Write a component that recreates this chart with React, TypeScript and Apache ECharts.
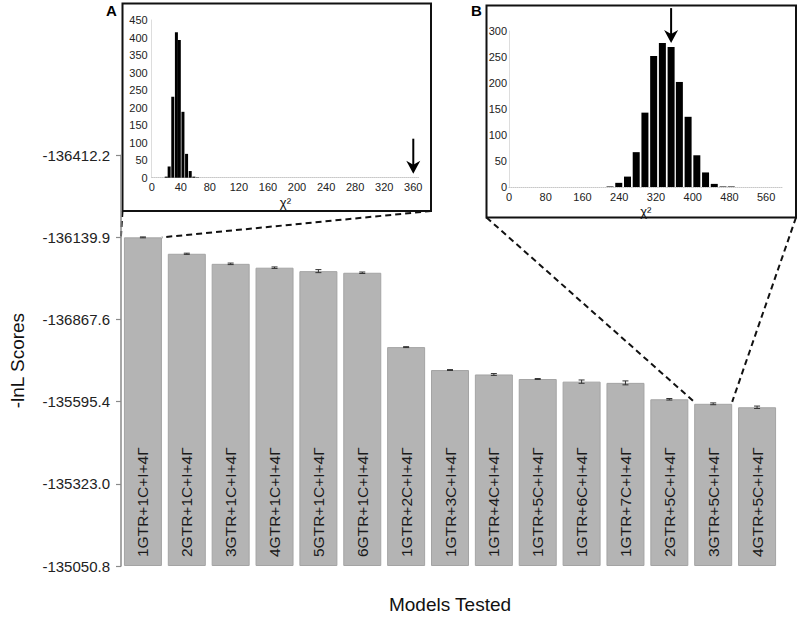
import React, { useEffect, useRef } from "react";
import * as echarts from "echarts";

// ---------- main bar chart data ----------
const models = [
  "1GTR+1C+I+4Γ",
  "2GTR+1C+I+4Γ",
  "3GTR+1C+I+4Γ",
  "4GTR+1C+I+4Γ",
  "5GTR+1C+I+4Γ",
  "6GTR+1C+I+4Γ",
  "1GTR+2C+I+4Γ",
  "1GTR+3C+I+4Γ",
  "1GTR+4C+I+4Γ",
  "1GTR+5C+I+4Γ",
  "1GTR+6C+I+4Γ",
  "1GTR+7C+I+4Γ",
  "2GTR+5C+I+4Γ",
  "3GTR+5C+I+4Γ",
  "4GTR+5C+I+4Γ",
];
// -lnL scores
const scores = [
  -136139.9, -136085.5, -136052.2, -136039.4, -136028.0, -136022.6,
  -135776.2, -135700.2, -135685.5, -135670.5, -135661.8, -135657.7,
  -135603.3, -135588.3, -135576.8,
];
const scoreErrors = [1.5, 2, 2.5, 2.5, 5, 2.5, 1.5, 1.5, 3, 1.5, 5.5, 6.5, 2.5, 3, 4];
const yTickLabels = ["-135050.8", "-135323.0", "-135595.4", "-136867.6", "-136139.9", "-136412.2"];
const scoreBase = -135050.8;
const scoreStep = -272.28;

// ---------- inset A histogram ----------
const histAChi = [20, 24, 29, 34, 38, 43, 48, 53, 58, 63];
const histACounts = [3, 32, 231, 415, 393, 188, 68, 19, 3, 1];
const observedA = 360;
const observedACount = 0;

// ---------- inset B histogram ----------
const histBChi = [220, 239, 258, 277, 296, 315, 334, 353, 371, 390, 409, 428, 447, 466, 484];
const histBCounts = [1, 8, 20, 67, 143, 252, 277, 269, 202, 135, 61, 28, 6, 1, 1];
const observedB = 353;
const observedBCount = 269;

const toAxis = (s: number) => (s - scoreBase) / scoreStep;

const FONT = "Liberation Sans";

export default function App() {
  const ref = useRef<HTMLDivElement>(null);

  useEffect(() => {
    if (!ref.current) return;
    const chart = echarts.init(ref.current, undefined, { renderer: "svg" });

    const arrowRender = (params: any, api: any) => {
      const tip = api.coord([api.value(0), api.value(1)]);
      const tx = tip[0];
      const ty = tip[1] - 4;
      return {
        type: "group",
        children: [
          {
            type: "line",
            shape: { x1: tx, y1: ty - 35, x2: tx, y2: ty - 6 },
            style: { stroke: "#000", lineWidth: 2 },
          },
          {
            type: "polygon",
            shape: {
              points: [
                [tx - 7, ty - 13],
                [tx, ty - 9],
                [tx + 7, ty - 13],
                [tx, ty],
              ],
            },
            style: { fill: "#000" },
          },
        ],
      };
    };

    const insetXAxis = (grid: number, max: number, interval: number) => ({
      type: "value",
      gridIndex: grid,
      min: 0,
      max,
      interval,
      axisLine: { show: true, lineStyle: { color: "#c8c8c8", type: "dotted", width: 1 } },
      axisTick: { show: false },
      splitLine: { show: false },
      axisLabel: { fontSize: 11, color: "#222", margin: 4, showMaxLabel: false, fontFamily: FONT },
      name: "χ²",
      nameLocation: "middle",
      nameGap: 18,
      nameTextStyle: { fontSize: 13, color: "#111", fontFamily: FONT },
    });
    const insetYAxis = (grid: number, max: number, margin: number) => ({
      type: "value",
      gridIndex: grid,
      min: 0,
      max,
      interval: 50,
      axisLine: { show: true, lineStyle: { color: "#dddddd", width: 1 } },
      axisTick: { show: false },
      splitLine: { show: false },
      axisLabel: { fontSize: 11, color: "#222", margin, fontFamily: FONT },
    });

    const option: any = {
      animation: false,
      textStyle: { fontFamily: FONT },
      grid: [
        { left: 114, top: 155.2, width: 665, height: 425.5 },
        { left: 151.7, top: 20, width: 267.4, height: 157.7 },
        { left: 509, top: 31, width: 273.7, height: 156 },
      ],
      xAxis: [
        {
          type: "category",
          gridIndex: 0,
          data: models,
          axisLine: { show: false },
          axisTick: { show: false },
          axisLabel: { show: false },
          name: "Models Tested",
          nameLocation: "middle",
          nameGap: 29,
          nameTextStyle: { fontSize: 19, color: "#111", fontFamily: FONT },
        },
        insetXAxis(1, 368, 40),
        insetXAxis(2, 596, 80),
      ],
      yAxis: [
        {
          type: "value",
          gridIndex: 0,
          min: 0,
          max: 5,
          interval: 1,
          axisLine: { show: true, lineStyle: { color: "#8a8a8a", width: 1.5 } },
          axisTick: { show: true, length: 5, lineStyle: { color: "#8a8a8a", width: 1.2 } },
          splitLine: { show: false },
          axisLabel: {
            fontSize: 15,
            color: "#222",
            margin: 11,
            fontFamily: FONT,
            formatter: (v: number) => yTickLabels[Math.round(v)],
          },
          name: "-lnL Scores",
          nameLocation: "middle",
          nameGap: 94,
          nameTextStyle: { fontSize: 19, color: "#111", fontFamily: FONT },
        },
        insetYAxis(1, 450, 4),
        insetYAxis(2, 300, 2),
      ],
      series: [
        {
          type: "bar",
          xAxisIndex: 0,
          yAxisIndex: 0,
          data: scores.map(toAxis),
          barWidth: 38,
          itemStyle: { color: "#b4b4b4", borderColor: "#a4a4a4", borderWidth: 1 },
          label: {
            show: true,
            position: "insideBottom",
            distance: 9,
            rotate: 90,
            align: "left",
            verticalAlign: "middle",
            formatter: "{b}",
            fontSize: 15.5,
            color: "#1a1a1a",
            fontFamily: FONT,
          },
        },
        {
          type: "custom",
          xAxisIndex: 0,
          yAxisIndex: 0,
          data: scores.map((s, i) => [i, toAxis(s - scoreErrors[i]), toAxis(s + scoreErrors[i])]),
          renderItem: (params: any, api: any) => {
            const hi = api.coord([api.value(0), api.value(1)]);
            const lo = api.coord([api.value(0), api.value(2)]);
            const x = hi[0];
            const st = { stroke: "#333", lineWidth: 1 };
            return {
              type: "group",
              children: [
                { type: "line", shape: { x1: x, y1: hi[1], x2: x, y2: lo[1] }, style: st },
                { type: "line", shape: { x1: x - 3, y1: hi[1], x2: x + 3, y2: hi[1] }, style: st },
                { type: "line", shape: { x1: x - 3, y1: lo[1], x2: x + 3, y2: lo[1] }, style: st },
              ],
            };
          },
          z: 5,
        },
        {
          type: "bar",
          xAxisIndex: 1,
          yAxisIndex: 1,
          data: histAChi.map((x, i) => [x, histACounts[i]]),
          barWidth: 3,
          itemStyle: { color: "#000" },
        },
        {
          type: "bar",
          xAxisIndex: 2,
          yAxisIndex: 2,
          data: histBChi.map((x, i) => [x, histBCounts[i]]),
          barWidth: 7,
          itemStyle: { color: "#000" },
        },
        {
          type: "custom",
          xAxisIndex: 1,
          yAxisIndex: 1,
          clip: false,
          data: [[observedA, observedACount]],
          renderItem: arrowRender,
          z: 6,
        },
        {
          type: "custom",
          xAxisIndex: 2,
          yAxisIndex: 2,
          clip: false,
          data: [[observedB, observedBCount]],
          renderItem: arrowRender,
          z: 6,
        },
      ],
    };

    chart.setOption(option);

    // connectors from inset boxes to bars
    const boxA = { x: 122.5, y: 3.5, w: 308.5, h: 207.5 };
    const boxB = { x: 486.5, y: 5.5, w: 309.5, h: 212 };
    const halfBar = 19;
    const pA = chart.convertToPixel({ gridIndex: 0 } as any, [0, toAxis(scores[0])]) as number[];
    const pB = chart.convertToPixel({ gridIndex: 0 } as any, [13, toAxis(scores[13])]) as number[];
    const dash = { stroke: "#111", lineWidth: 2, lineDash: [6, 4] };

    chart.setOption({
      graphic: [
        {
          type: "rect",
          shape: { x: boxA.x, y: boxA.y, width: boxA.w, height: boxA.h },
          style: { fill: "none", stroke: "#111", lineWidth: 2 },
        },
        {
          type: "rect",
          shape: { x: boxB.x, y: boxB.y, width: boxB.w, height: boxB.h },
          style: { fill: "none", stroke: "#111", lineWidth: 2 },
        },
        {
          type: "text",
          x: 106,
          y: 3,
          style: { text: "A", fontSize: 15, fontWeight: "bold", fill: "#000", fontFamily: FONT },
        },
        {
          type: "text",
          x: 471,
          y: 3,
          style: { text: "B", fontSize: 15, fontWeight: "bold", fill: "#000", fontFamily: FONT },
        },
        {
          type: "line",
          shape: { x1: boxA.x, y1: boxA.y + boxA.h, x2: pA[0] - halfBar - 3, y2: pA[1] - 1 },
          style: dash,
        },
        {
          type: "line",
          shape: { x1: boxA.x + boxA.w, y1: boxA.y + boxA.h, x2: pA[0] + halfBar, y2: pA[1] },
          style: dash,
        },
        {
          type: "line",
          shape: { x1: boxB.x, y1: boxB.y + boxB.h, x2: pB[0] - halfBar, y2: pB[1] - 2 },
          style: dash,
        },
        {
          type: "line",
          shape: { x1: boxB.x + boxB.w, y1: boxB.y + boxB.h, x2: pB[0] + halfBar, y2: pB[1] - 2 },
          style: dash,
        },
      ],
    });

    return () => chart.dispose();
  }, []);

  return (
    <div
      ref={ref}
      style={{ position: "fixed", left: 0, top: 0, width: 800, height: 619, background: "#fff" }}
    />
  );
}
